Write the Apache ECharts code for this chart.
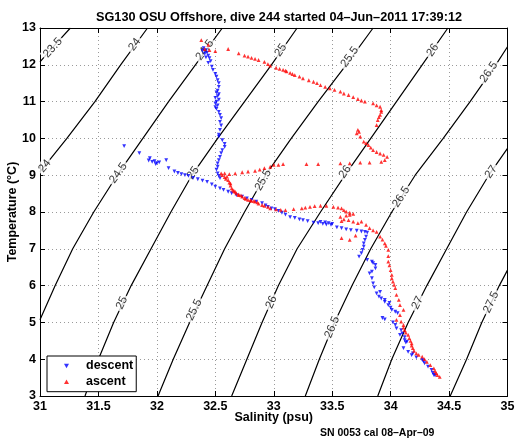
<!DOCTYPE html>
<html><head><meta charset="utf-8">
<script src="https://cdn.jsdelivr.net/npm/echarts@6/dist/echarts.min.js"></script>
<style>html,body{margin:0;padding:0;background:#fff}#c{width:519px;height:442px}</style>
</head><body><div id="c"></div>
<script>
// ---------- texts ----------
const titleText = 'SG130 OSU Offshore, dive 244 started 04\u2013Jun\u20132011 17:39:12';
const xName = 'Salinity (psu)';
const yName = 'Temperature (\u00B0C)';
const footText = 'SN 0053 cal 08\u2013Apr\u201309';
const xTickLabels = ['31','31.5','32','32.5','33','33.5','34','34.5','35'];
const yTickLabels = ['3','4','5','6','7','8','9','10','11','12','13'];

// ---------- density contours (S, T) ----------
const sigma235 = [[31.00,12.08],[31.13,12.55],[31.26,13.00]];
const sigma24  = [[31.00,9.09],[31.23,10],[31.47,11],[31.69,12],[31.92,13]];
const sigma245 = [[31.00,5.07],[31.13,6],[31.28,7],[31.46,8],[31.66,9],[31.88,10],[32.10,11],[32.33,12],[32.56,13]];
const sigma25  = [[31.385,3],[31.50,4],[31.63,5],[31.78,6],[31.95,7],[32.12,8],[32.30,9],[32.52,10],[32.75,11],[32.98,12],[33.20,13]];
const sigma255 = [[32.01,3],[32.14,4],[32.28,5],[32.43,6],[32.58,7],[32.75,8],[32.93,9],[33.15,10],[33.38,11],[33.62,12],[33.85,13]];
const sigma26  = [[32.64,3],[32.77,4],[32.90,5],[33.04,6],[33.20,7],[33.40,8],[33.61,9],[33.83,10],[34.05,11],[34.27,12],[34.49,13]];
const sigma265 = [[33.27,3],[33.39,4],[33.52,5],[33.67,6],[33.83,7],[34.01,8],[34.21,9],[34.45,10],[34.68,11],[34.90,12],[35.00,12.49]];
const sigma27  = [[33.89,3],[34.01,4],[34.15,5],[34.31,6],[34.48,7],[34.65,8],[34.84,9],[35.00,9.73]];
const sigma275 = [[34.51,3],[34.65,4],[34.78,5],[34.93,6],[35.00,6.42]];
const contourLevels = ['23.5','24','24.5','25','25.5','26','26.5','27','27.5'];
const contourLines = [sigma235, sigma24, sigma245, sigma25, sigma255, sigma26, sigma265, sigma27, sigma275];

// contour label anchors: level, S, T
const contourLabels = [
 ['23.5',31.11,12.46],['24',31.81,12.55],['24',31.04,9.25],
 ['24.5',32.41,12.40],['24.5',31.67,9.06],
 ['25',33.06,12.40],['25',32.31,9.06],['25',31.70,5.53],
 ['25.5',33.65,12.21],['25.5',32.91,8.87],['25.5',32.32,5.34],
 ['26',34.36,12.40],['26',33.61,9.09],['26',32.98,5.55],
 ['26.5',34.84,11.80],['26.5',34.09,8.41],['26.5',33.50,4.87],
 ['27',34.86,9.09],['27',34.23,5.53],['27.5',34.86,5.55]
];

// ---------- glider profile data (S, T) ----------
const descent = [
 [32.40,12.45],[32.39,12.38],[32.42,12.40],[32.41,12.30],[32.43,12.33],[32.44,12.25],[32.42,12.20],[32.45,12.18],[32.46,12.10],[32.44,12.05],
 [32.47,11.95],[32.48,11.86],[32.50,11.75],[32.51,11.68],[32.52,11.58],[32.53,11.50],[32.53,11.40],[32.52,11.30],[32.51,11.25],[32.53,11.20],
 [32.52,11.15],[32.50,11.10],[32.53,11.05],[32.51,11.00],[32.50,10.95],[32.52,10.90],[32.50,10.85],[32.51,10.80],[32.53,10.72],[32.54,10.64],
 [32.55,10.55],[32.54,10.45],[32.55,10.35],[32.54,10.23],[32.53,10.10],[32.53,10.05],[32.56,9.95],[32.58,9.85],[32.58,9.77],[32.56,9.68],
 [32.55,9.60],[32.54,9.50],[32.53,9.41],[32.52,9.32],[32.52,9.23],[32.51,9.15],[32.52,9.05],[32.53,8.98],[32.54,8.92],
 [31.72,9.79],[31.85,9.60],[31.94,9.46],[31.93,9.40],[31.96,9.36],[31.98,9.38],[32.00,9.33],[32.02,9.35],[31.99,9.30],[32.08,9.41],
 [32.10,9.19],[32.15,9.10],[32.18,9.06],[32.21,9.03],[32.24,9.00],[32.27,8.98],[32.31,8.93],[32.35,8.89],[32.39,8.85],[32.43,8.82],
 [32.47,8.75],[32.50,8.69],[32.54,8.64],[32.57,8.60],[32.61,8.55],[32.64,8.51],[32.68,8.46],[32.73,8.42],[32.77,8.37],[32.81,8.33],
 [32.85,8.28],[32.90,8.24],[32.93,8.18],[32.95,8.14],[32.98,8.10],[33.01,8.08],[33.04,8.03],[33.07,7.98],[33.10,7.93],[33.14,7.86],
 [33.18,7.84],[33.22,7.80],[33.25,7.78],[33.29,7.75],[33.34,7.71],[33.38,7.70],[33.40,7.73],[33.42,7.68],[33.44,7.72],[33.45,7.66],
 [33.47,7.70],[33.49,7.65],[33.50,7.68],[33.54,7.58],[33.58,7.56],[33.62,7.53],[33.66,7.51],[33.71,7.49],[33.75,7.47],[33.78,7.46],
 [33.80,7.44],[33.79,7.33],[33.78,7.24],[33.77,7.15],[33.77,7.06],[33.76,6.97],[33.75,6.88],[33.73,6.79],[33.80,6.70],[33.84,6.65],
 [33.85,6.61],[33.87,6.56],[33.87,6.47],[33.84,6.38],[33.82,6.33],[33.84,6.20],[33.85,6.06],[33.86,5.95],[33.88,5.79],[33.91,5.83],
 [33.90,5.70],[33.92,5.65],[33.95,5.61],[33.95,5.56],[33.98,5.47],[33.99,5.53],[34.00,5.40],[34.01,5.34],[34.04,5.29],[34.06,5.25],
 [33.95,5.08],[33.93,5.12],[34.02,5.00],[34.04,4.93],[34.05,4.84],[34.09,4.79],[34.08,4.66],[34.10,4.70],[34.12,4.60],[34.12,4.52],
 [34.14,4.48],[34.13,4.45],[34.11,4.30],[34.15,4.20],[34.19,4.16],[34.18,4.11],[34.22,4.05],[34.27,3.98],[34.28,3.95],[34.29,3.89],
 [34.32,3.80],[34.35,3.71],[34.36,3.63],[34.37,3.57],[34.38,3.56]
];
const ascent = [
 [34.42,3.52],[34.40,3.57],[34.39,3.62],[34.38,3.68],[34.37,3.75],[34.34,3.84],[34.31,3.93],[34.29,4.00],[34.27,4.07],[34.24,4.12],
 [34.22,4.16],[34.20,4.23],[34.19,4.30],[34.18,4.37],[34.18,4.43],[34.17,4.50],[34.16,4.57],[34.15,4.66],[34.13,4.72],[34.12,4.79],
 [34.11,4.86],[34.11,4.93],[34.09,5.02],[34.05,5.07],[34.08,5.20],[34.11,5.34],[34.08,5.47],[34.07,5.61],[34.05,5.75],[34.04,5.93],
 [34.03,6.02],[34.02,6.11],[34.01,6.20],[34.01,6.29],[34.00,6.42],[33.99,6.55],[33.98,6.65],[33.98,6.80],[33.98,6.97],[33.96,7.08],
 [33.95,7.15],[33.93,7.25],[33.91,7.33],[33.88,7.46],[33.85,7.50],[33.82,7.56],[33.79,7.65],[33.75,7.74],[33.72,7.70],[33.68,7.74],
 [33.64,7.78],[33.60,7.80],[33.58,7.75],[33.57,7.87],[33.62,7.90],[33.65,7.92],[33.68,7.95],[33.65,7.98],[33.62,8.01],[33.60,8.05],
 [33.58,7.29],[33.65,7.24],[33.70,7.36],
 [33.58,8.10],[33.55,8.12],[33.51,8.14],[33.45,8.17],[33.40,8.17],[33.35,8.16],[33.31,8.14],[33.27,8.12],[33.24,8.10],[33.17,8.08],
 [33.10,8.05],[33.06,8.06],[33.02,8.07],[32.97,8.10],[32.95,8.14],[32.92,8.17],[32.90,8.19],[32.87,8.23],[32.84,8.28],[32.81,8.30],
 [32.78,8.33],[32.75,8.38],[32.73,8.42],[32.70,8.46],[32.68,8.51],[32.66,8.57],[32.64,8.64],[32.63,8.72],[32.63,8.78],[32.61,8.87],
 [32.60,8.96],[32.58,9.05],[32.55,9.05],[32.56,9.00],[32.58,8.95],[32.59,8.90],[32.62,8.80],[32.65,8.60],[32.67,8.55],[32.70,8.48],
 [32.72,8.45],[32.76,8.36],[32.80,8.32],[32.83,8.30],[32.86,8.26],
 [32.62,9.03],[32.67,9.05],[32.73,9.08],[32.78,9.10],[32.84,9.12],[32.88,9.15],[32.92,9.19],[32.97,9.23],[33.00,9.28],[33.04,9.28],
 [33.08,9.30],[33.28,9.30],[33.38,9.30],[33.57,9.32],[33.65,9.32],[33.74,9.34],[33.82,9.34],[33.92,9.36],[33.95,9.41],[33.97,9.50],
 [33.94,9.55],[33.91,9.59],[33.88,9.63],[33.85,9.68],[33.83,9.75],[33.81,9.82],[33.79,9.87],[33.77,9.91],[33.74,10.05],[33.71,10.14],
 [33.72,10.23],[33.73,10.18],[33.88,10.36],[33.89,10.50],[33.90,10.58],[33.91,10.64],[33.92,10.72],[33.92,10.77],[33.91,10.86],[33.88,10.90],
 [33.85,10.95],[33.78,11.00],[33.75,11.03],[33.72,11.07],[33.68,11.12],[33.64,11.18],[33.60,11.22],[33.57,11.27],[33.52,11.32],[33.48,11.36],
 [33.44,11.40],[33.40,11.45],[33.37,11.50],[33.34,11.54],[33.30,11.58],[33.25,11.63],[33.22,11.68],[33.18,11.72],[33.16,11.75],[33.14,11.78],
 [33.11,11.82],[33.10,11.84],[33.08,11.86],[33.05,11.89],[33.02,11.92],[32.97,11.98],[32.95,12.02],[32.92,12.08],[32.87,12.13],[32.84,12.16],
 [32.81,12.19],[32.78,12.22],[32.75,12.25],[32.70,12.31],[32.61,12.43],[32.50,12.37],[32.45,12.40],[32.41,12.43],[32.44,12.54],[32.38,12.67]
];

// ---------- chart ----------
const FONT = 'Liberation Sans';
const chart = echarts.init(document.getElementById('c'), null, {renderer: 'canvas'});
const axisCommon = {
  type: 'value',
  axisLine: {show: true, onZero: false, lineStyle: {color: '#000', width: 1}},
  axisTick: {show: true, inside: true, length: 5, lineStyle: {color: '#000'}}
};
const option = {
  animation: false,
  backgroundColor: '#fff',
  title: {
    text: titleText, left: 274, top: 6, textAlign: 'center',
    textStyle: {fontFamily: FONT, fontSize: 12.7, fontWeight: 'bold', color: '#000'}
  },
  grid: {left: 40, right: 11.5, top: 28, bottom: 46, outerBoundsMode: 'none', containLabel: false},
  xAxis: [
    Object.assign({}, axisCommon, {
      min: 31, max: 35, interval: 0.5, position: 'bottom',
      name: xName, nameLocation: 'middle', nameGap: 15, nameMoveOverlap: false,
      nameTextStyle: {fontFamily: FONT, fontSize: 12.5, fontWeight: 'bold', color: '#000'},
      axisLabel: {margin: 4, fontFamily: FONT, fontSize: 12.5, fontWeight: 'bold', color: '#000',
        formatter: v => xTickLabels[Math.round((v - 31) / 0.5)]},
      splitLine: {show: true, lineStyle: {color: '#9a9a9a', type: [1, 3], width: 1}}
    }),
    Object.assign({}, axisCommon, {
      min: 31, max: 35, interval: 0.5, position: 'top',
      axisLabel: {show: false}, splitLine: {show: false}
    })
  ],
  yAxis: [
    Object.assign({}, axisCommon, {
      min: 3, max: 13, interval: 1, position: 'left',
      name: yName, nameLocation: 'middle', nameGap: 21, nameRotate: 90, nameMoveOverlap: false,
      nameTextStyle: {fontFamily: FONT, fontSize: 12.5, fontWeight: 'bold', color: '#000'},
      axisLabel: {margin: 4, fontFamily: FONT, fontSize: 12.5, fontWeight: 'bold', color: '#000',
        formatter: v => yTickLabels[Math.round(v - 3)]},
      splitLine: {show: true, lineStyle: {color: '#9a9a9a', type: [1, 3], width: 1}}
    }),
    Object.assign({}, axisCommon, {
      min: 3, max: 13, interval: 1, position: 'right',
      axisLabel: {show: false}, splitLine: {show: false}
    })
  ],
  legend: {
    orient: 'vertical', left: 47, top: 356,
    backgroundColor: '#fff', borderColor: '#000', borderWidth: 1, borderRadius: 0,
    padding: [3, 3, 3, 17], itemGap: 1.7, itemWidth: 5, itemHeight: 5,
    textStyle: {fontFamily: FONT, fontSize: 12.5, fontWeight: 'bold', color: '#000', padding: [0, 0, 0, 12], lineHeight: 14},
    data: [{name: 'descent', icon: 'path://M0,0L10,0L5,9Z'}, {name: 'ascent', icon: 'path://M5,0L10,9L0,9Z'}]
  },
  graphic: [{
    type: 'text', left: 320, top: 428,
    style: {text: footText, fontFamily: FONT, fontSize: 10.5, fontWeight: 'bold', fill: '#000'}
  }],
  series: contourLines.map((pts, i) => ({
    type: 'line', name: 'sigma ' + contourLevels[i], data: pts,
    xAxisIndex: 0, yAxisIndex: 0, symbol: 'none', showSymbol: false, silent: true, z: 1,
    lineStyle: {color: '#000', width: 1.2}
  })).concat([
    {type: 'scatter', name: 'descent', data: descent, xAxisIndex: 0, yAxisIndex: 0,
     symbol: 'triangle', symbolRotate: 180, symbolSize: 3.8, z: 4, itemStyle: {color: '#0000ff'}},
    {type: 'scatter', name: 'ascent', data: ascent, xAxisIndex: 0, yAxisIndex: 0,
     symbol: 'triangle', symbolSize: 3.8, z: 5, itemStyle: {color: '#ff0000'}}
  ])
};
chart.setOption(option);

// contour labels, rotated along their contour (angle taken from library pixel conversion)
function angleAt(level, T) {
  const pts = contourLines[contourLevels.indexOf(level)];
  let a = pts[0], b = pts[1];
  for (let i = 0; i < pts.length - 1; i++) {
    if (T >= pts[i][1] && T <= pts[i + 1][1]) { a = pts[i]; b = pts[i + 1]; break; }
  }
  const pa = chart.convertToPixel({gridIndex: 0}, a);
  const pb = chart.convertToPixel({gridIndex: 0}, b);
  return Math.atan2(pa[1] - pb[1], pb[0] - pa[0]) * 180 / Math.PI;
}
const labelData = contourLabels.map(l => ({
  name: l[0], value: [l[1], l[2]],
  label: {rotate: angleAt(l[0], l[2])}
}));
const series = option.series.slice();
series.splice(contourLines.length, 0, {
  type: 'scatter', name: 'labels', data: labelData, xAxisIndex: 0, yAxisIndex: 0,
  symbol: 'circle', symbolSize: 1, silent: true, z: 2,
  itemStyle: {color: 'rgba(0,0,0,0)'},
  label: {show: true, position: 'inside', formatter: p => p.name,
    fontFamily: FONT, fontSize: 11.5, color: '#000', backgroundColor: '#fff', padding: [0, 2]},
  labelLayout: {hideOverlap: false}
});
chart.setOption({series: series});
</script></body></html>
